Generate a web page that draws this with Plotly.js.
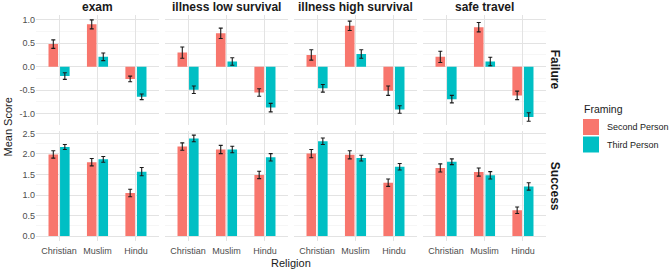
<!DOCTYPE html>
<html><head><meta charset="utf-8">
<script src="https://cdn.plot.ly/plotly-3.0.1.min.js"></script>
<style>html,body{margin:0;padding:0;background:#fff}#chart{width:670px;height:271px}</style>
</head><body><div id="chart"></div>
<script>
const religions = ['Christian','Muslim','Hindu'];
const scenarios = ['exam','illness low survival','illness high survival','safe travel'];
const outcomes = ['Failure','Success'];
const framings = ['Second Person','Third Person'];
const framingColors = ['#F8766D','#00BFC4'];

// values per scenario: [Christian, Muslim, Hindu]
const failureSecond   = [[0.48,0.90,-0.26],[0.30,0.71,-0.55],[0.25,0.87,-0.51],[0.21,0.84,-0.61]];
const failureSecondSE = [[0.09,0.095,0.06],[0.12,0.11,0.08],[0.11,0.10,0.10],[0.12,0.10,0.09]];
const failureThird    = [[-0.20,0.21,-0.64],[-0.49,0.11,-0.87],[-0.46,0.27,-0.91],[-0.69,0.11,-1.07]];
const failureThirdSE  = [[0.07,0.08,0.06],[0.08,0.08,0.09],[0.08,0.09,0.08],[0.08,0.09,0.09]];
const successSecond   = [[1.99,1.80,1.05],[2.18,2.11,1.49],[2.01,1.98,1.30],[1.66,1.56,0.63]];
const successSecondSE = [[0.09,0.09,0.09],[0.09,0.10,0.09],[0.10,0.10,0.09],[0.10,0.10,0.08]];
const successThird    = [[2.17,1.87,1.57],[2.38,2.11,1.92],[2.31,1.90,1.69],[1.81,1.48,1.21]];
const successThirdSE  = [[0.06,0.07,0.10],[0.08,0.08,0.09],[0.08,0.07,0.08],[0.07,0.09,0.09]];

const failureTickVals = [-1,-0.5,0,0.5,1];
const failureTickText = ['-1.0','-0.5','0.0','0.5','1.0'];
const successTickVals = [0,0.5,1,1.5,2,2.5];
const successTickText = ['0.0','0.5','1.0','1.5','2.0','2.5'];

const W = 670, H = 271;
const FONT = 'Liberation Sans, Arial, sans-serif';
const px = v => v / W;
const py = v => 1 - v / H;

const panelLeft = [36, 165, 294, 423];
const panelW = 123;
const topRow = [14.5, 125];
const botRow = [130.6, 241];

const rowData = {
  Failure: [[failureSecond, failureSecondSE],[failureThird, failureThirdSE]],
  Success: [[successSecond, successSecondSE],[successThird, successThirdSE]]
};

const traces = [];
outcomes.forEach((oc, r) => {
  scenarios.forEach((sc, c) => {
    framings.forEach((fr, f) => {
      const [vals, se] = rowData[oc][f];
      traces.push({
        type: 'bar',
        x: religions,
        y: vals[c],
        name: fr,
        showlegend: false,
        xaxis: c === 0 ? 'x' : 'x' + (c + 1),
        yaxis: r === 0 ? 'y' : 'y2',
        marker: {color: framingColors[f], line: {width: 0}},
        error_y: {type: 'data', array: se[c], visible: true, color: '#1a1a1a', thickness: 1.1, width: 2}
      });
    });
  });
});

const gridColor = '#e3e3e3';
const minorGrid = '#f0f0f0';
const layout = {
  width: W, height: H,
  margin: {l: 0, r: 0, t: 0, b: 0},
  paper_bgcolor: '#fff', plot_bgcolor: '#fff',
  barmode: 'group', bargap: 0.4, bargroupgap: 0.17,
  font: {family: FONT, color: '#4d4d4d', size: 9},
  showlegend: false,
  annotations: [], shapes: []
};

scenarios.forEach((sc, c) => {
  const key = c === 0 ? 'xaxis' : 'xaxis' + (c + 1);
  layout[key] = {
    domain: [px(panelLeft[c]), px(panelLeft[c] + panelW)],
    anchor: 'y2', type: 'category', categoryorder: 'array', categoryarray: religions,
    range: [-0.6, 2.6], showgrid: true, gridcolor: gridColor, gridwidth: 1,
    zeroline: false, showline: false, ticks: '', ticklabelstandoff: 3,
    tickfont: {size: 9, color: '#4d4d4d', family: FONT},
    fixedrange: true
  };
  layout.annotations.push({
    xref: 'paper', yref: 'paper', x: px(panelLeft[c] + panelW / 2), y: py(7),
    text: '<b>' + sc + '</b>', showarrow: false, xanchor: 'center', yanchor: 'middle',
    font: {family: FONT, size: 12, color: '#1a1a1a'}
  });
});

layout.yaxis = {
  domain: [py(topRow[1]), py(topRow[0])], anchor: 'x', range: [-1.24, 1.11],
  tickvals: failureTickVals, ticktext: failureTickText,
  showgrid: true, gridcolor: gridColor, gridwidth: 1, zeroline: false, showline: false, ticks: '',
  minor: {dtick: 0.25, tick0: 0, showgrid: true, gridcolor: minorGrid, gridwidth: 0.6},
  tickfont: {size: 9, color: '#4d4d4d', family: FONT}, fixedrange: true
};
layout.yaxis2 = {
  domain: [py(botRow[1]), py(botRow[0])], anchor: 'x', range: [-0.12, 2.57],
  tickvals: successTickVals, ticktext: successTickText,
  showgrid: true, gridcolor: gridColor, gridwidth: 1, zeroline: false, showline: false, ticks: '',
  minor: {dtick: 0.25, tick0: 0, showgrid: true, gridcolor: minorGrid, gridwidth: 0.6},
  tickfont: {size: 9, color: '#4d4d4d', family: FONT}, fixedrange: true
};

// row strips
[[outcomes[0], topRow],[outcomes[1], botRow]].forEach(([t, row]) => {
  layout.annotations.push({
    xref: 'paper', yref: 'paper', x: px(555), y: py((row[0] + row[1]) / 2),
    text: '<b>' + t + '</b>', textangle: 90, showarrow: false, xanchor: 'center', yanchor: 'middle',
    font: {family: FONT, size: 12, color: '#1a1a1a'}
  });
});

// axis titles
layout.annotations.push({
  xref: 'paper', yref: 'paper', x: px(8), y: py(127.5), text: 'Mean Score', textangle: -90,
  showarrow: false, xanchor: 'center', yanchor: 'middle', font: {family: FONT, size: 11, color: '#1a1a1a'}
});
layout.annotations.push({
  xref: 'paper', yref: 'paper', x: px(291), y: py(263), text: 'Religion',
  showarrow: false, xanchor: 'center', yanchor: 'middle', font: {family: FONT, size: 11, color: '#1a1a1a'}
});

// legend
layout.annotations.push({
  xref: 'paper', yref: 'paper', x: px(582), y: py(109), text: 'Framing',
  showarrow: false, xanchor: 'left', yanchor: 'middle', font: {family: FONT, size: 10.5, color: '#1a1a1a'}
});
framings.forEach((fr, f) => {
  const top = 119 + f * 17.5;
  layout.shapes.push({
    type: 'rect', xref: 'paper', yref: 'paper', x0: px(583), x1: px(599), y0: py(top), y1: py(top + 16),
    fillcolor: framingColors[f], line: {width: 0}
  });
  layout.annotations.push({
    xref: 'paper', yref: 'paper', x: px(604.5), y: py(top + 8), text: fr,
    showarrow: false, xanchor: 'left', yanchor: 'middle', font: {family: FONT, size: 9, color: '#1a1a1a'}
  });
});

Plotly.newPlot('chart', traces, layout, {staticPlot: true, displayModeBar: false});
</script></body></html>
